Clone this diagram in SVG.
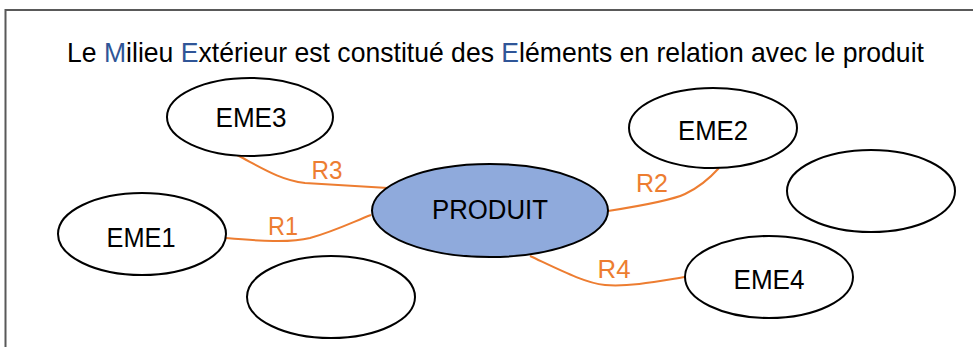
<svg xmlns="http://www.w3.org/2000/svg" width="973" height="347" viewBox="0 0 973 347">
<style>
.frame{fill:none;stroke:#595959;stroke-width:2}
.node ellipse{fill:#fff;stroke:#000;stroke-width:2}
#produit ellipse{fill:#8FAADC}
.lbl{font-family:"Liberation Sans",Arial,sans-serif;font-size:27px;fill:#000;text-anchor:middle}
.rl{font-family:"Liberation Sans",Arial,sans-serif;font-size:26px;fill:#ED7D31;text-anchor:middle}
.conn path{fill:none;stroke:#ED7D31;stroke-width:2}
.title{font-family:"Liberation Sans",Arial,sans-serif;font-size:27px;fill:#000}
.b{fill:#2F5597}
</style>
<rect width="973" height="347" fill="#fff"/>
<path class="frame" d="M5.5,347 V10 H973"/>
<text class="title" transform="translate(67,62) scale(0.985,1)" x="0" y="0">Le <tspan class="b">M</tspan>ilieu <tspan class="b">E</tspan>xtérieur est constitué des <tspan class="b">E</tspan>léments en relation avec le produit</text>
<g class="conn">
<path d="M237,155 C262,168 280,180 305,183 L388,188"/>
<path d="M226,238 C260,241 290,243 310,238 C335,231 355,221 371,215"/>
<path d="M608,211 C640,206 670,201 685,194 C700,187 710,178 719,168"/>
<path d="M530,256 C560,270 585,283 605,285 C630,287 660,281 685,277"/>
<text class="rl" x="327" y="179" textLength="31" lengthAdjust="spacingAndGlyphs">R3</text>
<text class="rl" x="283" y="235" textLength="30" lengthAdjust="spacingAndGlyphs">R1</text>
<text class="rl" x="652" y="192" textLength="32" lengthAdjust="spacingAndGlyphs">R2</text>
<text class="rl" x="614" y="278" textLength="33" lengthAdjust="spacingAndGlyphs">R4</text>
</g>
<g id="eme3" class="node"><ellipse cx="250" cy="117" rx="83" ry="39"/><text class="lbl" x="251" y="127" textLength="71" lengthAdjust="spacingAndGlyphs">EME3</text></g>
<g id="eme1" class="node"><ellipse cx="142" cy="234" rx="84" ry="41"/><text class="lbl" x="141" y="247" textLength="69" lengthAdjust="spacingAndGlyphs">EME1</text></g>
<g id="blank1" class="node"><ellipse cx="331" cy="297" rx="84" ry="41"/></g>
<g id="produit" class="node"><ellipse cx="490" cy="210.5" rx="118" ry="46.5"/><text class="lbl" x="490" y="219" textLength="116" lengthAdjust="spacingAndGlyphs">PRODUIT</text></g>
<g id="eme2" class="node"><ellipse cx="713" cy="128" rx="84" ry="40"/><text class="lbl" x="713" y="140" textLength="70" lengthAdjust="spacingAndGlyphs">EME2</text></g>
<g id="blank2" class="node"><ellipse cx="871" cy="191" rx="84" ry="41"/></g>
<g id="eme4" class="node"><ellipse cx="769" cy="277" rx="84" ry="41"/><text class="lbl" x="769" y="289" textLength="71" lengthAdjust="spacingAndGlyphs">EME4</text></g>
</svg>
